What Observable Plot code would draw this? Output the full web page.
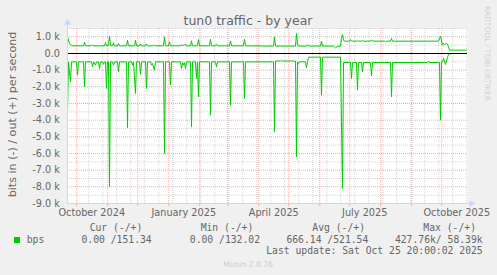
<!DOCTYPE html>
<html><head><meta charset="utf-8">
<script src="https://cdn.jsdelivr.net/npm/d3@7"></script>
<script src="https://cdn.jsdelivr.net/npm/@observablehq/plot@0.6"></script>
<style>
html,body{margin:0;padding:0;background:#F0F0F0;}
#chart{width:497px;height:275px;overflow:hidden;}
svg{display:block;}
</style></head><body><div id="chart"></div>
<script>
// ---- Data (day number counted from 2024-09-21 18:00 UTC, the left edge of the 400-day window) ----
const outDay = [
  0,2,4, 16,17,18, 24,25,26, 37,38,39, 41,42,43, 45,46,47, 50,51,52, 59,60,61,
  67,68,69, 72,73,74, 78,79,80, 86,87,88, 96,97,98, 101,102,103, 113,114,115,118,119,
  123,124,125, 130,131,132, 142,143,144, 148,149,150, 162,163,164, 176,177,178,
  206,207,208, 228,229,230,231, 239,240,241, 253,254,255, 266,268,270,
  273,274,275,276,277, 282,283,284, 289,290,291, 294,295,296, 303,304,305,
  317,318,319, 323,324,325, 371,373,375,376,377,378,379,380,381,382,399
];
const outBits = [
  1000,600,460, 460,680,460, 460,520,460, 460,650,460, 480,1040,480, 460,650,460, 460,600,460, 460,800,460,
  460,800,460, 460,580,460, 460,580,460, 460,520,460, 460,1000,460, 460,700,460, 460,540,470,540,460,
  460,760,460, 460,840,460, 460,860,460, 460,560,460, 460,760,460, 460,860,460,
  445,1000,445, 445,1200,560,445, 445,520,445, 445,740,445, 445,340,420,
  445,900,1140,820,740, 740,840,740, 740,790,740, 740,780,740, 740,820,740,
  740,700,740, 740,900,740, 740,1040,500,620,540,560,620,560,400,200,200
];
const inDay = [
  0,1,3,4, 9,10,11, 16,17,18, 24,25,26, 28,29, 31,32,33, 35,36,37, 38,39,40, 41,42,43,
  45,46,47, 50,51,52, 59,60,61, 64,65,66, 68,69, 72,73,74, 78,79,80, 83,84,85, 87,88,
  96,97,98, 102,103,104, 113,114,115,116,117,118,119, 123,124,125, 128,129,130,131,132,
  142,143,144, 148,149,150, 162,163,164, 176,177,178, 206,207,208, 213,214,215,
  228,229,230,231,232, 238,239,240,241, 253,254,255, 273,275,276,
  283,284,285, 289,290,291, 294,295,296, 303,304,305, 323,324,325, 360,361,362,
  372,373,374,375,376,378,380,381,383,399
];
const inBits = [
  3600,500,1700,500, 500,1300,500, 500,2000,500, 500,800,500, 700,500, 500,900,500, 500,650,500, 500,2100,500, 500,8000,500,
  500,700,500, 500,1100,500, 500,4450,500, 500,700,500, 2400,500, 500,1250,500, 500,2100,500, 500,700,600, 1000,500,
  500,6000,500, 500,1900,500, 500,900,550,700,550,900,500, 500,4400,500, 500,1500,500,2600,500,
  500,3700,500, 500,800,500, 500,3100,500, 500,2700,500, 500,4700,450, 450,400,450,
  450,6200,500,600,500, 500,850,500,220, 220,2500,220, 220,8100,540,
  540,1500,540, 540,2200,540, 540,1100,540, 540,1350,540, 540,2600,540, 540,450,540,
  540,4000,500,500,300,660,240,60,0,0
];
const yMajor = [-9000,-8000,-7000,-6000,-5000,-4000,-3000,-2000,-1000,0,1000];
const yMinor = [-8500,-7500,-6500,-5500,-4500,-3500,-2500,-1500,-500,500,1500];
const xLabelDates = ["2024-10-16","2025-01-16","2025-04-16","2025-07-16","2025-10-16"];
const legendHeads = ["Cur (-/+)","Min (-/+)","Avg (-/+)","Max (-/+)"];
const legendVals = ["0.00 /151.34","0.00 /132.02","666.14 /521.54","427.76k/ 58.39k"];
const seriesName = "bps";
const titleText = "tun0 traffic - by year";
const yLabelText = "bits in (-) / out (+) per second";
const lastUpdate = "Last update: Sat Oct 25 20:00:02 2025";

// ---- build ----
const DAY = 864e5;
const t0 = Date.UTC(2024, 8, 21, 18);
const t1 = t0 + 400 * DAY;
const toDate = d => new Date(t0 + d * DAY);
const outData = outDay.map((d, i) => ({t: toDate(d), v: outBits[i]}));
const inData = inDay.map((d, i) => ({t: toDate(d), v: -inBits[i]}));
const xMajor = d3.utcMonth.range(new Date(t0), new Date(t1));
const xMinor = d3.utcSunday.range(new Date(Date.UTC(2024, 9, 13)), new Date(t1), 2);
const labelDates = xLabelDates.map(s => new Date(s + "T00:00:00Z"));
const fmtY = v => v === 0 ? "0.0" : (v / 1000).toFixed(1) + " k";
const AX = "#CFD6F8", GRID = "#d4d4d4", MGRID = "#eeaaaa", FG = "#666666";

const chart = Plot.plot({
  width: 497, height: 275,
  marginLeft: 67, marginRight: 30, marginTop: 28, marginBottom: 72,
  style: {background: "transparent", fontFamily: "DejaVu Sans, sans-serif", color: FG, overflow: "visible"},
  x: {type: "utc", domain: [new Date(t0), new Date(t1)], axis: null},
  y: {domain: [-9000, 1500], axis: null},
  marks: [
    Plot.frame({fill: "white", stroke: null}),
    Plot.ruleY(yMinor, {stroke: GRID, strokeDasharray: "1,1"}),
    Plot.ruleX(xMinor, {stroke: GRID, strokeDasharray: "1,1"}),
    Plot.ruleY(yMajor, {stroke: MGRID, strokeDasharray: "1,1"}),
    Plot.ruleX(xMajor, {stroke: MGRID, strokeDasharray: "1,1"}),
    Plot.ruleX(xMajor, {y1: -9000, y2: -9000, dy: 0, stroke: null}),
    Plot.axisX({ticks: xMajor, tickSize: 3, tickFormat: () => "", stroke: MGRID, label: null}),
    Plot.line(outData, {x: "t", y: "v", stroke: "#00cc00", strokeWidth: 1}),
    Plot.line(inData, {x: "t", y: "v", stroke: "#00cc00", strokeWidth: 1}),
    Plot.ruleY([0], {stroke: "black"}),
    Plot.ruleX([new Date(t0)], {y1: -9000, y2: 1850, stroke: AX}),
    Plot.ruleY([-9000], {x1: new Date(t0), x2: new Date(t1 + 4 * DAY), stroke: AX}),
    Plot.dot([0], {x: () => new Date(t0), y: () => 1850, symbol: "triangle", r: 2.6, fill: AX, stroke: null}),
    Plot.dot([0], {x: () => new Date(t1 + 4 * DAY), y: () => -9000, symbol: "triangle", rotate: 90, r: 2.6, fill: AX, stroke: null}),
    Plot.axisY({ticks: yMajor, tickSize: 0, tickPadding: 7.5, tickFormat: fmtY, fontSize: 9.72, fill: FG, label: null}),
    Plot.axisX({ticks: labelDates, tickSize: 0, tickPadding: 6, tickFormat: d3.utcFormat("%B %Y"), fontSize: 9.72, fill: FG, label: null})
  ]
});

const svg = d3.select(chart);
const sans = "DejaVu Sans, sans-serif";
const mono = "DejaVu Sans Mono, monospace";
function txt(x, y, s, o = {}) {
  return svg.append("text").attr("x", x).attr("y", y).text(s)
    .attr("font-family", o.family || sans).attr("font-size", o.size || 9.72)
    .attr("fill", o.fill || FG).attr("text-anchor", o.anchor || "start")
    .attr("transform", o.transform || null);
}
txt(248, 24.5, titleText, {size: 12.5, anchor: "middle"});
svg.append("text").text(yLabelText)
  .attr("transform", "translate(15.5,114.5) rotate(-90)")
  .attr("text-anchor", "middle").attr("font-family", sans)
  .attr("font-size", 11.1).attr("fill", FG);
svg.append("text").text("RRDTOOL / TOBI OETIKER")
  .attr("transform", "translate(485,53.5) rotate(90)")
  .attr("text-anchor", "middle").attr("font-family", sans)
  .attr("font-size", 7.4).attr("fill", "#d0d0d0");
const headRight = [142.3, 253.3, 365, 476];
const valRight = [151.7, 260, 368.3, 482.7];
legendHeads.forEach((h, i) => txt(headRight[i], 230.5, h, {family: mono, anchor: "end", size: 9.72}));
legendVals.forEach((v, i) => txt(valRight[i], 242.5, v, {family: mono, anchor: "end", size: 9.72}));
svg.append("rect").attr("x", 14).attr("y", 237).attr("width", 6).attr("height", 6).attr("fill", "#00cc00");
txt(26.7, 242.5, seriesName, {family: mono, size: 9.72});
txt(482.7, 254, lastUpdate, {family: mono, anchor: "end", size: 9.72});
txt(248, 266.5, "Munin 2.0.76", {size: 7.6, anchor: "middle", fill: "#cccccc"});

document.getElementById("chart").appendChild(chart);
</script></body></html>
